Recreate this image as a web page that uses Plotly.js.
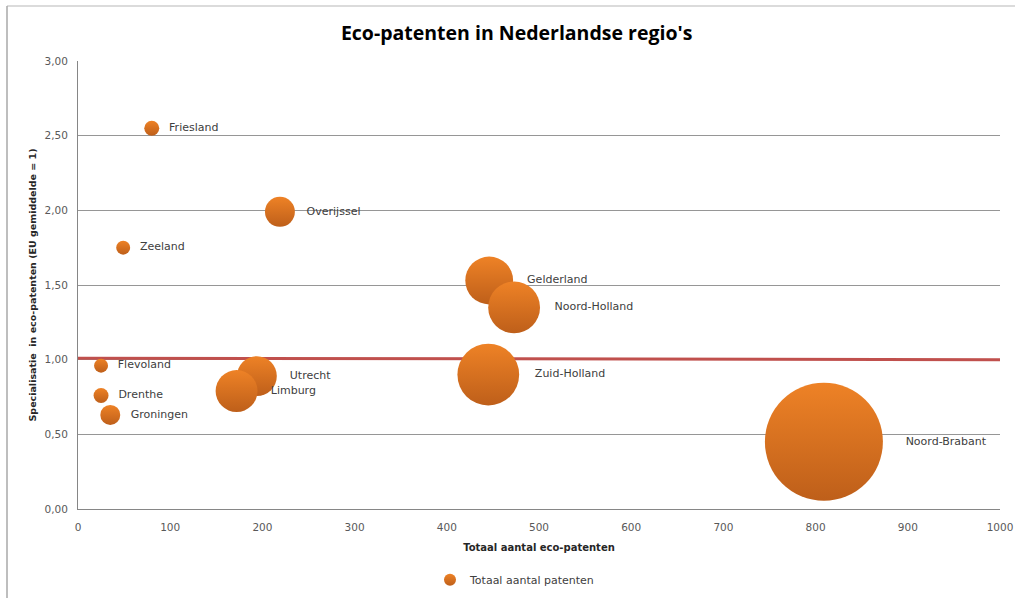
<!DOCTYPE html>
<html>
<head>
<meta charset="utf-8">
<script src="https://cdn.plot.ly/plotly-3.0.1.min.js"></script>
<style>html,body{margin:0;padding:0;background:#fff;}#chart{width:1015px;height:598px;}</style>
</head>
<body>
<div id="chart"></div>
<script>
// Data
const regions = ["Friesland","Overijssel","Zeeland","Gelderland","Noord-Holland","Flevoland","Utrecht","Drenthe","Limburg","Groningen","Zuid-Holland","Noord-Brabant"];
const ecoPatents = [80, 219, 49, 446, 473, 25, 194, 25, 172, 35, 445, 809];
const specialisation = [2.55, 1.99, 1.75, 1.53, 1.35, 0.96, 0.89, 0.76, 0.79, 0.63, 0.90, 0.45];
const totalPatents = [135, 540, 118, 1380, 1620, 118, 960, 135, 1060, 240, 2300, 8400];
const refLineX = [0, 1000];
const refLineY = [1.01, 1.0];
const xTicks = [0,100,200,300,400,500,600,700,800,900,1000];
const yTicks = [0, 0.5, 1.0, 1.5, 2.0, 2.5, 3.0];

const maxBubble = 118;
const sizeref = 2 * Math.max(...totalPatents) / (maxBubble * maxBubble);
const labelFont = {family: "'DejaVu Sans', Verdana, sans-serif", size: 11, color: "#404040"};

const bubbles = {
  type: "scatter",
  mode: "markers+text",
  name: "Totaal aantal patenten",
  x: ecoPatents,
  y: specialisation,
  text: regions.map(r => "\u00a0\u00a0" + r),
  textposition: "middle right",
  textfont: labelFont,
  cliponaxis: false,
  hoverinfo: "x+y+text",
  marker: {
    size: totalPatents,
    sizemode: "area",
    sizeref: sizeref,
    color: "#EE8226",
    opacity: 1,
    line: {width: 0},
    gradient: {type: "vertical", color: "#BE5F1A"}
  }
};

const refLine = {
  type: "scatter",
  mode: "lines",
  x: refLineX,
  y: refLineY,
  showlegend: false,
  hoverinfo: "skip",
  line: {color: "#C0504D", width: 3}
};

const tickFont = {family: "'DejaVu Sans', Verdana, sans-serif", size: 10.5, color: "#595959"};

const layout = {
  width: 1015,
  height: 598,
  margin: {l: 78, r: 15, t: 61, b: 89, autoexpand: false},
  paper_bgcolor: "#ffffff",
  plot_bgcolor: "#ffffff",
  separators: ",.",
  title: {
    text: "<b>Eco-patenten in Nederlandse regio's</b>",
    font: {family: "'Liberation Sans Narrow', 'Arial Narrow', 'Open Sans', sans-serif", size: 19.5, color: "#000000"},
    x: 0.509, xanchor: "center", xref: "container",
    y: 0.945, yanchor: "middle"
  },
  xaxis: {
    range: [0, 1000],
    tickvals: xTicks,
    ticktext: xTicks.map(String),
    showgrid: false,
    zeroline: false,
    showline: true,
    linecolor: "#868686",
    linewidth: 1,
    ticks: "",
    ticklabelstandoff: 8,
    automargin: false,
    tickfont: tickFont,
    title: {text: "<b>Totaal aantal eco-patenten</b>", font: {family: "'DejaVu Sans', Verdana, sans-serif", size: 10, color: "#262626"}, standoff: 12}
  },
  yaxis: {
    range: [0, 3],
    tickvals: yTicks,
    tickformat: ".2f",
    showgrid: true,
    gridcolor: "#969696",
    gridwidth: 1,
    zeroline: false,
    showline: true,
    linecolor: "#868686",
    linewidth: 1,
    ticks: "",
    ticklabelstandoff: 7,
    automargin: false,
    tickfont: tickFont,
    title: {text: "<b>Specialisatie  in eco-patenten (EU gemiddelde = 1)</b>", font: {family: "'DejaVu Sans', Verdana, sans-serif", size: 9.5, color: "#262626"}, standoff: 6}
  },
  showlegend: true,
  legend: {
    orientation: "h",
    x: (430 - 78) / 922, xanchor: "left",
    y: -0.158, yanchor: "middle",
    font: {family: "'DejaVu Sans', Verdana, sans-serif", size: 11, color: "#404040"},
    itemsizing: "constant",
    itemwidth: 30
  },
  shapes: [
    {type: "line", xref: "paper", yref: "paper",
     x0: (7 - 78) / 922, x1: (1015 - 78) / 922,
     y0: (509 - 6) / 448, y1: (509 - 6) / 448,
     line: {color: "#CFCFCF", width: 1.5}, layer: "below"},
    {type: "line", xref: "paper", yref: "paper",
     x0: (7 - 78) / 922, x1: (7 - 78) / 922,
     y0: (509 - 6) / 448, y1: (509 - 600) / 448,
     line: {color: "#A8A8A8", width: 1.5}, layer: "below"}
  ]
};

Plotly.newPlot("chart", [refLine, bubbles], layout, {displayModeBar: false, staticPlot: true});
</script>
</body>
</html>
